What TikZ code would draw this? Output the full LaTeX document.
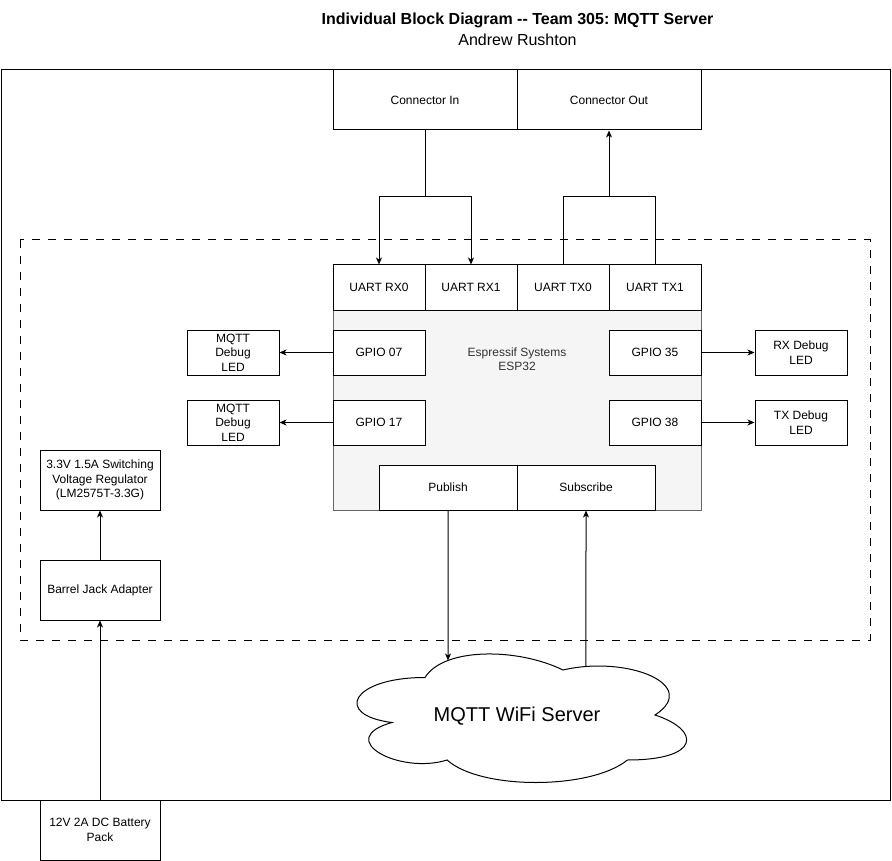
\documentclass[tikz,border=0pt]{standalone}
\usepackage{fontspec}
\setmainfont{Liberation Sans}
\usetikzlibrary{shapes, arrows.meta, intersections}
\frenchspacing
\definecolor{espfill}{HTML}{F5F5F5}
\definecolor{espline}{HTML}{666666}
\definecolor{esptext}{HTML}{333333}
\tikzstyle{arrow} = [->,>={Stealth[length=7pt,width=6pt,inset=2pt]}]
\tikzstyle{block} = [draw, fill=white, inner sep=0pt, align=center, font=\fontsize{12}{14.4}\selectfont]
\tikzstyle{pin} = [block, minimum width=92pt, minimum height=45pt]
\tikzstyle{power} = [block, minimum width=120pt, minimum height=60pt]

\begin{document}
\begin{tikzpicture}[x=1pt, y=-1pt, line width=1pt]
\useasboundingbox (0,0) rectangle (892,861);

% Title
\node (title) at (517.5,20) {\fontsize{16}{19}\selectfont\bfseries Individual Block Diagram -{}- Team 305: MQTT Server};
\node (author) at (517.5,40) {\fontsize{16}{19}\selectfont Andrew Rushton};

% Enclosure and board outline
\draw (1,70) rectangle (890,800);
\draw[dash pattern=on 8pt off 8pt] (20,240) rectangle (870,640);

% Connectors
\node[block, minimum width=184pt, minimum height=60pt] (connin) at (425,100) {Connector In};
\node[block, minimum width=184pt, minimum height=60pt] (connout) at (609,100) {Connector Out};

% ESP32
\node[draw=espline, fill=espfill, minimum width=368pt, minimum height=245pt] (esp) at (517,387.5) {};
\node[text=esptext, align=center, font=\fontsize{12}{14.4}\selectfont] (esplabel) at (517,359.5) {Espressif Systems\\ESP32};

% UART pins
\node[pin] (rx0) at (379,287.5) {UART RX0};
\node[pin] (rx1) at (471,287.5) {UART RX1};
\node[pin] (tx0) at (563,287.5) {UART TX0};
\node[pin] (tx1) at (655,287.5) {UART TX1};

% GPIO pins
\node[pin] (gpio07) at (379,352.5) {GPIO 07};
\node[pin] (gpio17) at (379,422.5) {GPIO 17};
\node[pin] (gpio35) at (655,352.5) {GPIO 35};
\node[pin] (gpio38) at (655,422.5) {GPIO 38};

% WiFi
\node[block, minimum width=138pt, minimum height=45pt] (pub) at (448,487.5) {Publish};
\node[block, minimum width=138pt, minimum height=45pt] (sub) at (586,487.5) {Subscribe};

% LEDs
\node[pin] (mqttled1) at (233,352.5) {MQTT\\Debug\\LED};
\node[pin] (mqttled2) at (233,422.5) {MQTT\\Debug\\LED};
\node[pin] (rxled) at (801,352.5) {RX Debug\\LED};
\node[pin] (txled) at (801,422.5) {TX Debug\\LED};

% Power
\node[power] (reg) at (100,480) {3.3V 1.5A Switching\\Voltage Regulator\\(LM2575T-3.3G)};
\node[power] (jack) at (100,590) {Barrel Jack Adapter};
\node[power] (batt) at (100,830) {12V 2A DC Battery\\Pack};

% Cloud
\draw[fill=white, name path=cloud] (425,677.5)
    .. controls (351.4,677.5) and (333,715) .. (391.9,722.5)
    .. controls (333,739) and (399.2,775) .. (447.1,760)
    .. controls (480.2,790) and (590.6,790) .. (627.4,760)
    .. controls (701,760) and (701,730) .. (655,715)
    .. controls (701,685) and (627.4,655) .. (563,670)
    .. controls (517,647.5) and (443.4,647.5) .. (425,677.5) -- cycle;
\node[font=\fontsize{20}{24}\selectfont] (server) at (517,716) {MQTT WiFi Server};

% Arrows
\coordinate (insplit) at (425,197);
\coordinate (outsplit) at (609,197);
\draw[arrow] (connin.south) -- (insplit) -| (rx0.north);
\draw[arrow] (insplit) -| (rx1.north);
\draw[arrow] (tx0.north) |- (outsplit) -- (connout.south);
\draw (tx1.north) |- (outsplit);

\draw[arrow] (gpio07.west) -- (mqttled1.east);
\draw[arrow] (gpio17.west) -- (mqttled2.east);
\draw[arrow] (gpio35.east) -- (rxled.west);
\draw[arrow] (gpio38.east) -- (txled.west);

\draw[arrow] (jack.north) -- (reg.south);
\draw[arrow] (batt.north) -- (jack.south);

\path[name path=publine] (pub.south) -- ++(0,200);
\path[name path=subline] (sub.south) -- ++(0,200);
\path[name intersections={of=cloud and publine, by=pubhit}];
\path[name intersections={of=cloud and subline, by=subhit}];
\draw[arrow] (pub.south) -- (pubhit);
\draw[arrow] (subhit) -- (sub.south);

\end{tikzpicture}
\end{document}
